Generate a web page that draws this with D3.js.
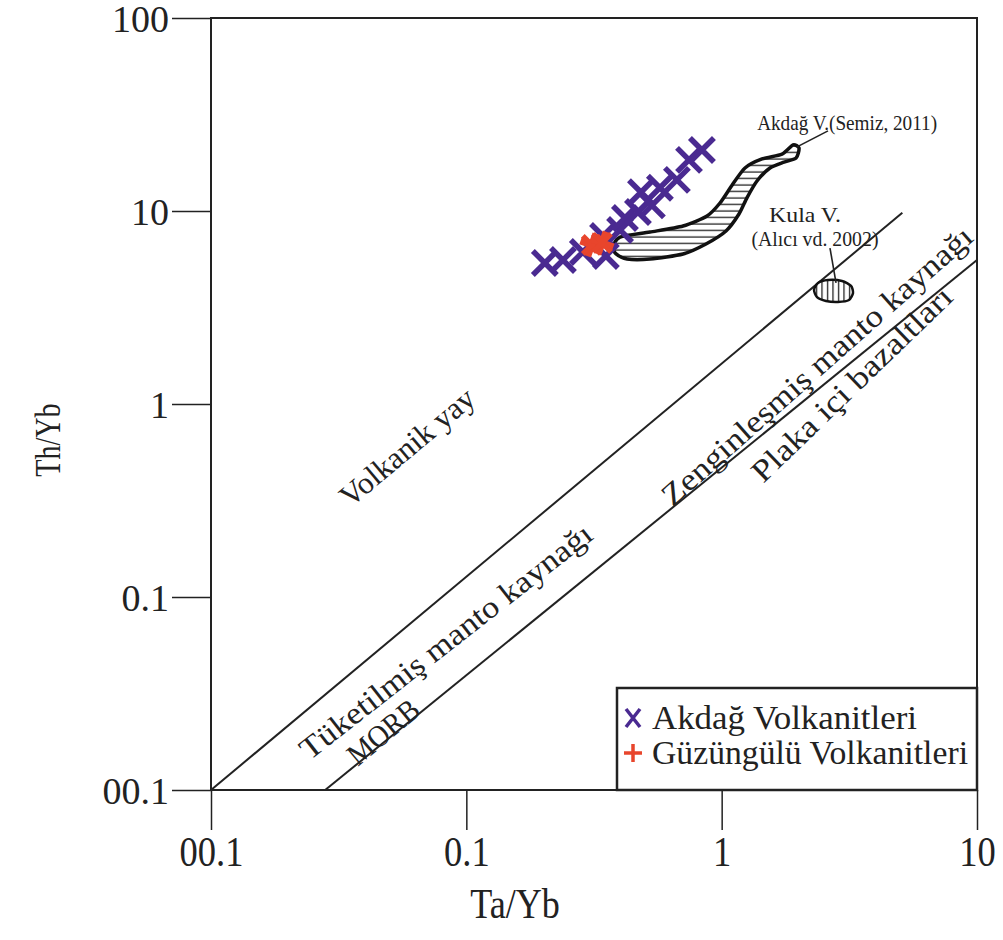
<!DOCTYPE html>
<html><head><meta charset="utf-8">
<script src="https://cdn.jsdelivr.net/npm/d3@7"></script>
<style>
html,body{margin:0;padding:0;background:#fff;}
text{font-family:"Liberation Serif","DejaVu Serif",serif;fill:#222;}
</style></head>
<body><svg id="chart" width="1003" height="940"></svg>
<script>
// ---- data ----
const xTickValues = [0.01, 0.1, 1, 10];
const xTickLabels = ["00.1", "0.1", "1", "10"];
const yTickValues = [0.01, 0.1, 1, 10, 100];
const yTickLabels = ["00.1", "0.1", "1", "10", "100"];

// Akdağ Volkanitleri (Ta/Yb, Th/Yb)
const akdagTaYb = [0.203, 0.239, 0.286, 0.343, 0.352, 0.400, 0.418, 0.470, 0.483, 0.533, 0.573, 0.668, 0.745, 0.837];
const akdagThYb = [5.38, 5.57, 6.13, 7.42, 5.85, 7.97, 9.20, 9.88, 12.5, 10.7, 13.2, 14.5, 18.4, 20.7];
// Güzüngülü Volkanitleri
const guzTaYb = [0.310, 0.340];
const guzThYb = [6.67, 6.83];

// Boundary lines
const upperLineTaYb = [0.01, 5.1];
const upperLineThYb = [0.01, 9.8];
const lowerLineTaYb = [0.028, 10];
const lowerLineThYb = [0.01, 5.57];

// Field of Akdağ V. (Semiz, 2011)
const semizTaYb = [0.375, 0.400, 0.524, 0.706, 0.876, 0.985, 1.098, 1.234, 1.439, 1.723, 1.903, 2.009, 1.956, 1.755, 1.546, 1.375, 1.256, 1.169, 1.040, 0.868, 0.706, 0.524, 0.426, 0.386];
const semizThYb = [6.51, 7.33, 7.78, 8.36, 9.42, 11.0, 13.6, 16.7, 18.6, 19.7, 22.0, 21.2, 18.8, 17.9, 16.7, 14.3, 11.7, 9.65, 7.88, 6.75, 5.99, 5.64, 5.64, 5.99];
// Field of Kula V. (Alıcı vd. 2002)
const kulaTaYb = [2.300, 2.384, 2.609, 2.960, 3.211, 3.269, 3.153, 2.855, 2.562, 2.362];
const kulaThYb = [3.90, 4.24, 4.39, 4.34, 4.09, 3.76, 3.46, 3.38, 3.42, 3.58];

// Leader lines
const semizLeaderTaYb = [1.973, 2.609];
const semizLeaderThYb = [21.5, 26.0];
const kulaLeaderTaYb = [2.656, 2.805];
const kulaLeaderThYb = [6.43, 4.24];

// Region labels
const regionNames = ["Volkanik yay", "Tüketilmiş manto kaynağı", "MORB", "Zenginleşmiş manto kaynağı", "Plaka içi bazaltları"];
const regionTaYb = [0.0586, 0.083, 0.0472, 2.36, 3.23];
const regionThYb = [0.599, 0.0590, 0.0200, 1.58, 1.27];
const regionAngle = [-40, -38, -40, -41.5, -44];
const regionLength = [166, 362, 84, 404, 266];

// Annotation labels
const noteNames = ["Akdağ V.(Semiz, 2011)", "Kula V.", "(Alıcı vd. 2002)"];
const noteTaYb = [3.10, 2.12, 2.32];
const noteThYb = [26.3, 8.77, 6.59];
const noteLength = [180, 72, 127];

const legendNames = ["Akdağ Volkanitleri", "Güzüngülü Volkanitleri"];
const legendColors = ["#4a2a91", "#e8452c"];
const legendLength = [265, 316];

// ---- drawing ----
const svg = d3.select("#chart");
const L = 211, R = 977, T = 18, B = 790;
const x = d3.scaleLog().domain([0.01, 10]).range([L, R]);
const y = d3.scaleLog().domain([0.01, 100]).range([B, T]);
const ink = "#222";

// defs: hatch patterns
const defs = svg.append("defs");
const hp = defs.append("pattern").attr("id", "hHatch").attr("patternUnits", "userSpaceOnUse")
  .attr("width", 8).attr("height", 6.5);
hp.append("rect").attr("width", 8).attr("height", 6.5).attr("fill", "#fff");
hp.append("line").attr("x1", 0).attr("x2", 8).attr("y1", 3).attr("y2", 3).attr("stroke", ink).attr("stroke-width", 1.3);
const vp = defs.append("pattern").attr("id", "vHatch").attr("patternUnits", "userSpaceOnUse")
  .attr("width", 5.5).attr("height", 8);
vp.append("rect").attr("width", 5.5).attr("height", 8).attr("fill", "#fff");
vp.append("line").attr("y1", 0).attr("y2", 8).attr("x1", 2.5).attr("x2", 2.5).attr("stroke", ink).attr("stroke-width", 1.3);

// boundary lines
const line = d3.line().x(d => x(d[0])).y(d => y(d[1]));
[[upperLineTaYb, upperLineThYb], [lowerLineTaYb, lowerLineThYb]].forEach(([xs, ys]) => {
  svg.append("path").attr("d", line(d3.zip(xs, ys))).attr("fill", "none").attr("stroke", ink).attr("stroke-width", 2);
});

// fields
const closed = d3.line().x(d => x(d[0])).y(d => y(d[1])).curve(d3.curveCardinalClosed.tension(0.3));
svg.append("path").attr("d", closed(d3.zip(semizTaYb, semizThYb)))
  .attr("fill", "url(#hHatch)").attr("stroke", "#111").attr("stroke-width", 3.5);
svg.append("path").attr("d", closed(d3.zip(kulaTaYb, kulaThYb)))
  .attr("fill", "url(#vHatch)").attr("stroke", "#111").attr("stroke-width", 2.5);

// leaders
[[semizLeaderTaYb, semizLeaderThYb], [kulaLeaderTaYb, kulaLeaderThYb]].forEach(([xs, ys]) => {
  svg.append("path").attr("d", line(d3.zip(xs, ys))).attr("fill", "none").attr("stroke", ink).attr("stroke-width", 1.6);
});

// region labels
regionNames.forEach((n, i) => {
  svg.append("text").attr("transform", `translate(${x(regionTaYb[i])},${y(regionThYb[i])}) rotate(${regionAngle[i]})`)
    .attr("text-anchor", "middle").attr("dominant-baseline", "central")
    .attr("font-size", 31).attr("textLength", regionLength[i]).attr("lengthAdjust", "spacingAndGlyphs").text(n);
});

// notes
noteNames.forEach((n, i) => {
  svg.append("text").attr("x", x(noteTaYb[i])).attr("y", y(noteThYb[i]))
    .attr("text-anchor", "middle").attr("font-size", 21)
    .attr("textLength", noteLength[i]).attr("lengthAdjust", "spacingAndGlyphs").text(n);
});

// markers
const xSym = "M-12,-12L12,12M-12,12L12,-12";
const pSym = "M-12,0L12,0M0,-12L0,12";
d3.zip(akdagTaYb, akdagThYb).forEach(d => {
  svg.append("path").attr("d", xSym).attr("transform", `translate(${x(d[0])},${y(d[1])})`)
    .attr("stroke", legendColors[0]).attr("stroke-width", 5.5).attr("fill", "none");
});
d3.zip(guzTaYb, guzThYb).forEach(d => {
  svg.append("path").attr("d", pSym).attr("transform", `translate(${x(d[0])},${y(d[1])}) rotate(20)`)
    .attr("stroke", legendColors[1]).attr("stroke-width", 7).attr("fill", "none");
  svg.append("path").attr("d", xSym).attr("transform", `translate(${x(d[0])},${y(d[1])}) scale(0.75)`)
    .attr("stroke", legendColors[1]).attr("stroke-width", 7).attr("fill", "none");
});

// frame
svg.append("rect").attr("x", L).attr("y", T).attr("width", R - L).attr("height", B - T)
  .attr("fill", "none").attr("stroke", ink).attr("stroke-width", 2);

// axes
const yAxis = d3.axisLeft(y).tickValues(yTickValues).tickFormat((d, i) => yTickLabels[i]).tickSize(39).tickPadding(3);
const gy = svg.append("g").attr("transform", `translate(${L},0)`).call(yAxis);
gy.select(".domain").remove();
gy.selectAll("line").attr("stroke", ink).attr("stroke-width", 1.5);
gy.selectAll("text").attr("font-size", 38).attr("font-family", "Liberation Serif").attr("fill", ink).attr("dy", "0.36em");

const xAxis = d3.axisBottom(x).tickValues(xTickValues).tickFormat((d, i) => xTickLabels[i]).tickSize(40).tickPadding(6);
const gx = svg.append("g").attr("transform", `translate(0,${B})`).call(xAxis);
gx.select(".domain").remove();
gx.selectAll("line").attr("stroke", ink).attr("stroke-width", 1.5);
gx.selectAll("text").attr("font-size", 42).attr("font-family", "Liberation Serif").attr("fill", ink)
  .attr("transform", "scale(0.87,1)");

// axis titles
svg.append("text").attr("transform", `translate(515,918) scale(0.86,1)`).attr("text-anchor", "middle")
  .attr("font-size", 42).text("Ta/Yb");
svg.append("text").attr("transform", `translate(60,440) rotate(-90) scale(0.78,1)`).attr("text-anchor", "middle")
  .attr("font-size", 36).text("Th/Yb");

// legend
const lg = svg.append("g");
lg.append("rect").attr("x", 617).attr("y", 688).attr("width", R - 617).attr("height", B - 688)
  .attr("fill", "#fff").attr("stroke", ink).attr("stroke-width", 2.5);
legendNames.forEach((n, i) => {
  const cy = 718 + i * 35;
  lg.append("path").attr("d", i === 0 ? "M-7,-9L7,9M-7,9L7,-9" : "M-9,0L9,0M0,-9L0,9")
    .attr("transform", `translate(633,${cy})`).attr("stroke", legendColors[i]).attr("stroke-width", 3.5).attr("fill", "none");
  lg.append("text").attr("x", 652).attr("y", cy + 11).attr("font-size", 33)
    .attr("textLength", legendLength[i]).attr("lengthAdjust", "spacingAndGlyphs").text(n);
});
</script></body></html>
